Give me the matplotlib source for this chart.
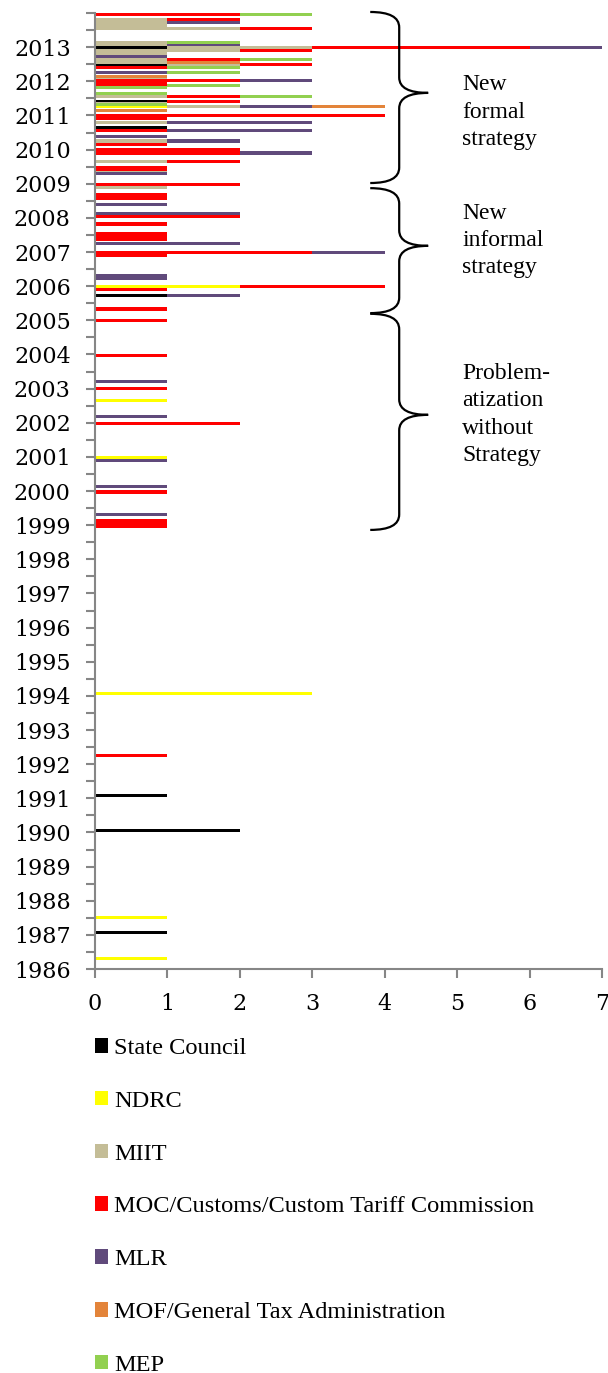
import numpy as np
import matplotlib
matplotlib.use("Agg")
import matplotlib.pyplot as plt
from matplotlib.path import Path
from matplotlib.patches import PathPatch
from matplotlib.ticker import FixedLocator, MultipleLocator

# agencies in stacking order and their colours
agencies = ["State Council", "NDRC", "MIIT", "MOC/Customs/Custom Tariff Commission",
            "MLR", "MOF/General Tax Administration", "MEP"]
colors = ["#000000", "#FFFF00", "#C4BD97", "#FF0000", "#604A7B", "#E3843A", "#92D050"]

# date (decimal year) of every policy document, top to bottom
dates = [2013.97, 2013.82, 2013.73, 2013.64, 2013.55, 2013.14, 2013.07, 2012.98, 2012.89, 2012.82,
         2012.72, 2012.63, 2012.56, 2012.48, 2012.40, 2012.27, 2012.15, 2012.08, 2012.01, 2011.93,
         2011.87, 2011.81, 2011.65, 2011.56, 2011.42, 2011.36, 2011.31, 2011.25, 2011.15, 2010.99,
         2010.90, 2010.80, 2010.65, 2010.55, 2010.39, 2010.25, 2010.16, 2009.99, 2009.90, 2009.66,
         2009.48, 2009.42, 2009.38, 2009.30, 2008.99, 2008.90, 2008.67, 2008.58, 2008.40, 2008.13,
         2008.03, 2007.82, 2007.55, 2007.46, 2007.37, 2007.26, 2006.99, 2006.90, 2006.32, 2006.23,
         2005.98, 2005.89, 2005.72, 2005.33, 2004.99, 2003.98, 2003.22, 2002.99, 2002.66, 2002.17,
         2001.99, 2000.99, 2000.90, 2000.14, 1999.97, 1999.32, 1999.14, 1999.05, 1998.96, 1994.08,
         1992.24, 1991.07, 1990.07, 1987.52, 1987.08, 1986.32]

# number of issuing bodies per agency for each document
state_council = [0, 0, 0, 0, 0, 0, 0, 1, 0, 0,
                 0, 0, 0, 1, 0, 0, 0, 0, 0, 0,
                 0, 0, 0, 0, 1, 0, 0, 0, 0, 0,
                 0, 0, 1, 0, 0, 0, 0, 0, 0, 0,
                 0, 0, 0, 0, 0, 0, 0, 0, 0, 0,
                 0, 0, 0, 0, 0, 0, 0, 0, 0, 0,
                 0, 0, 1, 0, 0, 0, 0, 0, 0, 0,
                 0, 0, 0, 0, 0, 0, 0, 0, 0, 0,
                 0, 1, 2, 0, 1, 0]
ndrc = [0, 0, 0, 0, 0, 0, 0, 0, 0, 0,
        0, 0, 0, 0, 0, 0, 0, 0, 0, 0,
        0, 0, 0, 0, 0, 0, 0, 1, 0, 0,
        0, 0, 0, 0, 0, 0, 0, 0, 0, 0,
        0, 0, 0, 0, 0, 0, 0, 0, 0, 0,
        0, 0, 0, 0, 0, 0, 0, 0, 0, 0,
        2, 0, 0, 0, 0, 0, 0, 0, 1, 0,
        0, 1, 0, 0, 0, 0, 0, 0, 0, 3,
        0, 0, 0, 1, 0, 1]
miit = [0, 1, 1, 1, 2, 1, 1, 2, 2, 1,
        0, 1, 1, 1, 0, 0, 0, 1, 0, 0,
        0, 0, 0, 1, 0, 1, 0, 1, 0, 0,
        0, 1, 0, 0, 0, 1, 0, 0, 0, 1,
        0, 0, 1, 0, 0, 1, 0, 0, 0, 0,
        0, 0, 0, 0, 0, 0, 0, 0, 0, 0,
        0, 0, 0, 0, 0, 0, 0, 0, 0, 0,
        0, 0, 0, 0, 0, 0, 0, 0, 0, 0,
        0, 0, 0, 0, 0, 0]
moc = [2, 1, 0, 0, 1, 0, 0, 3, 1, 0,
       0, 1, 0, 1, 1, 0, 0, 0, 2, 1,
       1, 0, 0, 1, 1, 0, 0, 0, 0, 4,
       1, 0, 0, 1, 0, 0, 1, 2, 2, 1,
       1, 1, 0, 0, 2, 0, 1, 1, 0, 0,
       2, 1, 1, 1, 1, 0, 3, 1, 0, 0,
       2, 1, 0, 1, 1, 1, 0, 1, 0, 0,
       2, 0, 0, 0, 1, 0, 1, 1, 1, 0,
       1, 0, 0, 0, 0, 0]
mlr = [0, 0, 1, 0, 0, 0, 1, 1, 0, 0,
       1, 0, 0, 0, 0, 1, 0, 0, 1, 0,
       0, 0, 0, 0, 0, 0, 0, 1, 0, 0,
       0, 2, 0, 2, 1, 1, 0, 0, 1, 0,
       0, 0, 0, 1, 0, 0, 0, 0, 1, 2,
       0, 0, 0, 0, 0, 2, 1, 0, 1, 1,
       0, 0, 1, 0, 0, 0, 1, 0, 0, 1,
       0, 0, 1, 1, 0, 1, 0, 0, 0, 0,
       0, 0, 0, 0, 0, 0]
mof = [0, 0, 0, 0, 0, 0, 0, 0, 0, 0,
       0, 0, 1, 0, 0, 0, 1, 0, 0, 0,
       0, 0, 0, 0, 0, 0, 0, 1, 1, 0,
       0, 0, 0, 0, 0, 0, 0, 0, 0, 0,
       0, 0, 0, 0, 0, 0, 0, 0, 0, 0,
       0, 0, 0, 0, 0, 0, 0, 0, 0, 0,
       0, 0, 0, 0, 0, 0, 0, 0, 0, 0,
       0, 0, 0, 0, 0, 0, 0, 0, 0, 0,
       0, 0, 0, 0, 0, 0]
mep = [1, 0, 0, 0, 0, 1, 0, 0, 0, 0,
       0, 1, 0, 0, 1, 1, 0, 0, 0, 0,
       1, 1, 1, 1, 0, 0, 1, 0, 0, 0,
       0, 0, 0, 0, 0, 0, 0, 0, 0, 0,
       0, 0, 0, 0, 0, 0, 0, 0, 0, 0,
       0, 0, 0, 0, 0, 0, 0, 0, 0, 0,
       0, 0, 0, 0, 0, 0, 0, 0, 0, 0,
       0, 0, 0, 0, 0, 0, 0, 0, 0, 0,
       0, 0, 0, 0, 0, 0]

series = [state_council, ndrc, miit, moc, mlr, mof, mep]

# phases marked with braces: (top, tip, bottom, label, label centre)
phases = [(2014.03, 2011.66, 2009.02, "New\nformal\nstrategy", 2011.10),
          (2008.87, 2007.18, 2005.21, "New\ninformal\nstrategy", 2007.33),
          (2005.19, 2002.23, 1998.86, "Problem-\natization\nwithout\nStrategy", 2002.24)]

grey = "#868686"

fig = plt.figure(figsize=(6.08, 13.73), dpi=100)
ax = fig.add_axes([95 / 608, 1 - 969 / 1373, 507 / 608, 956 / 1373])

left = np.zeros(len(dates))
for name, col, vals in zip(agencies, colors, series):
    vals = np.array(vals, dtype=float)
    ax.barh(dates, vals, left=left, height=0.09, color=col, label=name, linewidth=0)
    left += vals

ax.set_xlim(0, 7)
ax.set_ylim(1986, 2014)
ax.xaxis.set_major_locator(FixedLocator(range(0, 8)))
ax.yaxis.set_major_locator(FixedLocator(range(1986, 2014)))
ax.yaxis.set_minor_locator(MultipleLocator(0.5))

for s in ["top", "right"]:
    ax.spines[s].set_visible(False)
for s in ["left", "bottom"]:
    ax.spines[s].set_color(grey)
    ax.spines[s].set_linewidth(1.5)

ax.tick_params(axis="both", which="both", direction="out", length=6.5, width=1.5,
               color=grey, pad=11)
for lab in ax.get_xticklabels() + ax.get_yticklabels():
    lab.set_fontfamily("DejaVu Serif")
    lab.set_fontsize(16)


def brace(ax, top, tip, bot, x0=3.80, x1=4.20, x2=4.60, r=0.45):
    verts = [(x0, top), (x1, top), (x1, top - r),
             (x1, tip + r),
             (x1, tip), (x2, tip),
             (x1, tip), (x1, tip - r),
             (x1, bot + r),
             (x1, bot), (x0, bot)]
    codes = [Path.MOVETO, Path.CURVE3, Path.CURVE3,
             Path.LINETO,
             Path.CURVE3, Path.CURVE3,
             Path.CURVE3, Path.CURVE3,
             Path.LINETO,
             Path.CURVE3, Path.CURVE3]
    ax.add_patch(PathPatch(Path(verts, codes), fill=False, lw=1.6,
                           edgecolor="black", clip_on=False))


for top, tip, bot, text, ymid in phases:
    brace(ax, top, tip, bot)
    ax.text(5.07, ymid, text, ha="left", va="center",
            fontsize=17, family="Liberation Serif", linespacing=1.38)

ax.legend(loc="upper left", bbox_to_anchor=(95 / 608, 1 - 1038 / 1373),
          bbox_transform=fig.transFigure, frameon=False,
          prop={"family": "Liberation Serif", "size": 17.6},
          handlelength=0.54, handleheight=0.54, handletextpad=0.24,
          labelspacing=1.3, borderpad=0, borderaxespad=0)

fig.savefig("out.png", dpi=100)
